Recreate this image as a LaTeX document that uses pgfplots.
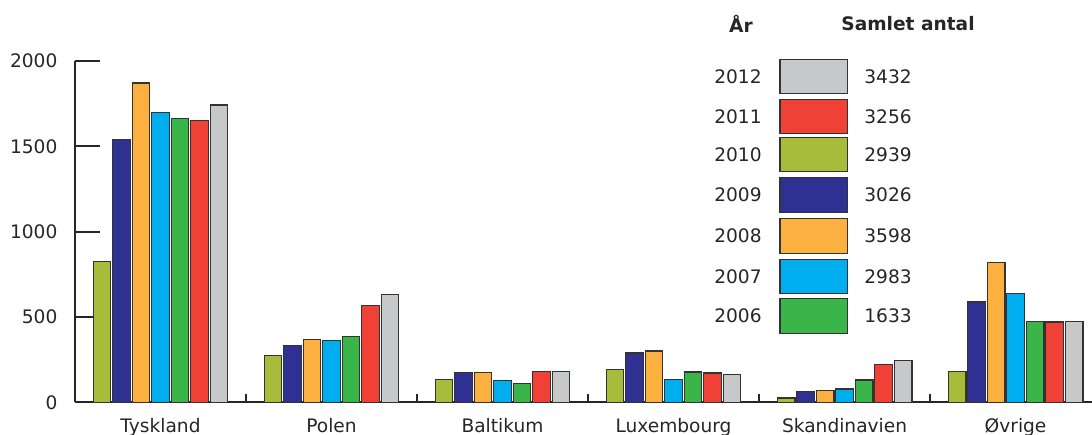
\documentclass[border=0pt]{standalone}
\usepackage{pgfplots}
\pgfplotsset{compat=1.18}
\usepackage{fontspec}
\setmainfont{DejaVu Sans}
\definecolor{colOlive}{HTML}{A6BC3A}
\definecolor{colNavy}{HTML}{2E3192}
\definecolor{colOrange}{HTML}{FBB040}
\definecolor{colCyan}{HTML}{00AEEF}
\definecolor{colGreen}{HTML}{39B54A}
\definecolor{colRed}{HTML}{EF4136}
\definecolor{colGray}{HTML}{C7C8CA}
\begin{document}
\fontsize{9.3}{11}\selectfont
\begin{tikzpicture}
\useasboundingbox (0,0) rectangle (546pt,217pt);
\begin{axis}[
  ybar=0.9pt, bar width=8.85pt,
  at={(37.5pt,15.85pt)}, anchor=south west,
  scale only axis, width=508.5pt, height=170.65pt,
  xmin=-0.5, xmax=5.447, ymin=0, ymax=2000,
  axis x line*=bottom, axis y line*=left,
  axis line style={-, line width=1pt, black!85},
  xtick pos=bottom, ytick pos=left,
  tick align=inside, xtick align=inside, ytick align=inside,
  xtick={0,...,5},
  xticklabels={Tyskland,Polen,Baltikum,Luxembourg,Skandinavien,Øvrige},
  major x tick style={draw=none},
  minor xtick={0.5,1.5,2.5,3.5,4.5},
  minor tick length=4pt,
  ytick={0,500,...,2000},
  major tick length=12.5pt,
  tick style={line width=1pt, black!85},
  yticklabel style={xshift=-5.5pt, text=black!85},
  xticklabel style={yshift=-4.5pt, text=black!85},
  /pgf/number format/assume math mode=true,
  /pgf/number format/1000 sep={},
  clip=false,
  every axis plot/.append style={draw=black!80, line width=0.6pt},
]
\addplot[fill=colOlive] coordinates {(0,827) (1,276) (2,133) (3,194) (4,25) (5,180)};
\addplot[fill=colNavy] coordinates {(0,1538) (1,332) (2,176) (3,289) (4,65) (5,588)};
\addplot[fill=colOrange] coordinates {(0,1871) (1,369) (2,174) (3,301) (4,68) (5,819)};
\addplot[fill=colCyan] coordinates {(0,1698) (1,360) (2,129) (3,135) (4,78) (5,637)};
\addplot[fill=colGreen] coordinates {(0,1663) (1,385) (2,111) (3,178) (4,131) (5,475)};
\addplot[fill=colRed] coordinates {(0,1652) (1,567) (2,180) (3,172) (4,223) (5,471)};
\addplot[fill=colGray] coordinates {(0,1742) (1,633) (2,180) (3,164) (4,246) (5,475)};
\end{axis}
\begin{scope}[every node/.style={inner sep=0pt, text=black!85}]
\node[font=\bfseries] at (370.5pt,205pt) {År};
\node[font=\bfseries] at (454pt,205pt) {Samlet antal};
\node[anchor=east] at (381pt,178.75pt) {2012};
\node[anchor=east] at (381pt,158.75pt) {2011};
\node[anchor=east] at (381pt,139.65pt) {2010};
\node[anchor=east] at (381pt,119.5pt) {2009};
\node[anchor=east] at (381pt,99pt) {2008};
\node[anchor=east] at (381pt,78.65pt) {2007};
\node[anchor=east] at (381pt,59pt) {2006};
\node[anchor=west] at (432pt,178.75pt) {3432};
\node[anchor=west] at (432pt,158.75pt) {3256};
\node[anchor=west] at (432pt,139.65pt) {2939};
\node[anchor=west] at (432pt,119.5pt) {3026};
\node[anchor=west] at (432pt,99pt) {3598};
\node[anchor=west] at (432pt,78.65pt) {2983};
\node[anchor=west] at (432pt,59pt) {1633};
\end{scope}
\begin{scope}[draw=black!80, line width=0.6pt]
\draw[fill=colGray]   (390pt,170.18pt) rectangle (423.85pt,187.32pt);
\draw[fill=colRed]    (390pt,150.18pt) rectangle (423.85pt,167.32pt);
\draw[fill=colOlive]  (390pt,131.08pt) rectangle (423.85pt,148.22pt);
\draw[fill=colNavy]   (390pt,110.93pt) rectangle (423.85pt,128.07pt);
\draw[fill=colOrange] (390pt,90.43pt) rectangle (423.85pt,107.57pt);
\draw[fill=colCyan]   (390pt,70.08pt) rectangle (423.85pt,87.22pt);
\draw[fill=colGreen]  (390pt,50.43pt) rectangle (423.85pt,67.57pt);
\end{scope}
\end{tikzpicture}
\end{document}
